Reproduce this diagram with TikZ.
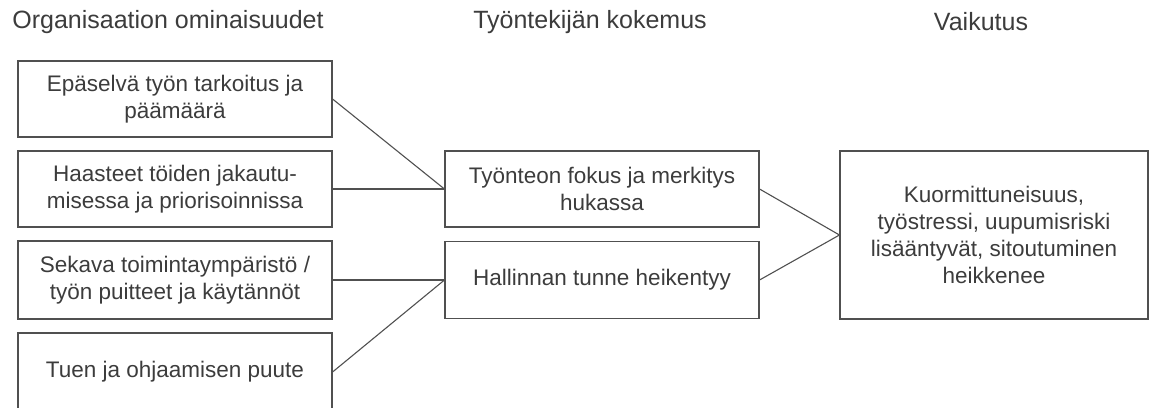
\documentclass[tikz,border=0pt]{standalone}
\usepackage{fontspec}
\setmainfont{Liberation Sans}
\usepackage{tikz}
\usetikzlibrary{positioning}

\definecolor{boxline}{HTML}{505050}
\definecolor{boxtext}{HTML}{3C3C3C}

\begin{document}
\begin{tikzpicture}[x=1pt, y=-1pt,
		cause/.style = {draw = boxline, line width = 1.1pt, text = boxtext, align = center,
			minimum width = 314pt, inner sep = 0pt, font = \fontsize{22.5}{27}\selectfont},
		heading/.style = {text = boxtext, inner sep = 0pt, font = \fontsize{25}{30}\selectfont},
		link/.style = {draw = boxline, line width = 1.1pt}]
			\useasboundingbox (0,0) rectangle (1150,407);
			\clip (0,0) rectangle (1150,407);
			
			% otsikot
			\node [heading] (h1) at (168,22) {Organisaation ominaisuudet};
			\node [heading] (h2) at (590,22) {Työntekijän kokemus};
			\node [heading] (h3) at (981,22) {Vaikutus};
			
			% organisaatio
			\node [cause, minimum height = 76pt] (org1) at (175,99) {Epäselvä työn tarkoitus ja\\päämäärä};
			\node [cause, minimum height = 76pt] (org2) at (175,189) {Haasteet töiden jakautu-\\misessa ja priorisoinnissa};
			\node [cause, minimum height = 78pt] (org3) at (175,280) {Sekava toimintaympäristö /\\työn puitteet ja käytännöt};
			\node [cause, minimum height = 78pt] (org4) at (175,372) {Tuen ja ohjaamisen puute};
			
			% kokemus
			\node [cause, minimum height = 76pt] (fokus) at (602,189) {Työnteon fokus ja merkitys\\hukassa};
			\node [cause, minimum height = 77pt] (hallinta) at (602,280) {Hallinnan tunne heikentyy};
			
			% vaikutus
			\node [cause, minimum width = 308pt, minimum height = 168pt] (vaikutus) at (994,235)
				{Kuormittuneisuus,\\työstressi, uupumisriski\\lisääntyvät, sitoutuminen\\heikkenee};
			
			\draw [link] (org1.east) -- (fokus.west);
			\draw [link] (org2.east) -- (fokus.west);
			\draw [link] (org3.east) -- (hallinta.west);
			\draw [link] (org4.east) -- (hallinta.west);
			\draw [link] (fokus.east) -- (vaikutus.west);
			\draw [link] (hallinta.east) -- (vaikutus.west);
		\end{tikzpicture}
\end{document}
